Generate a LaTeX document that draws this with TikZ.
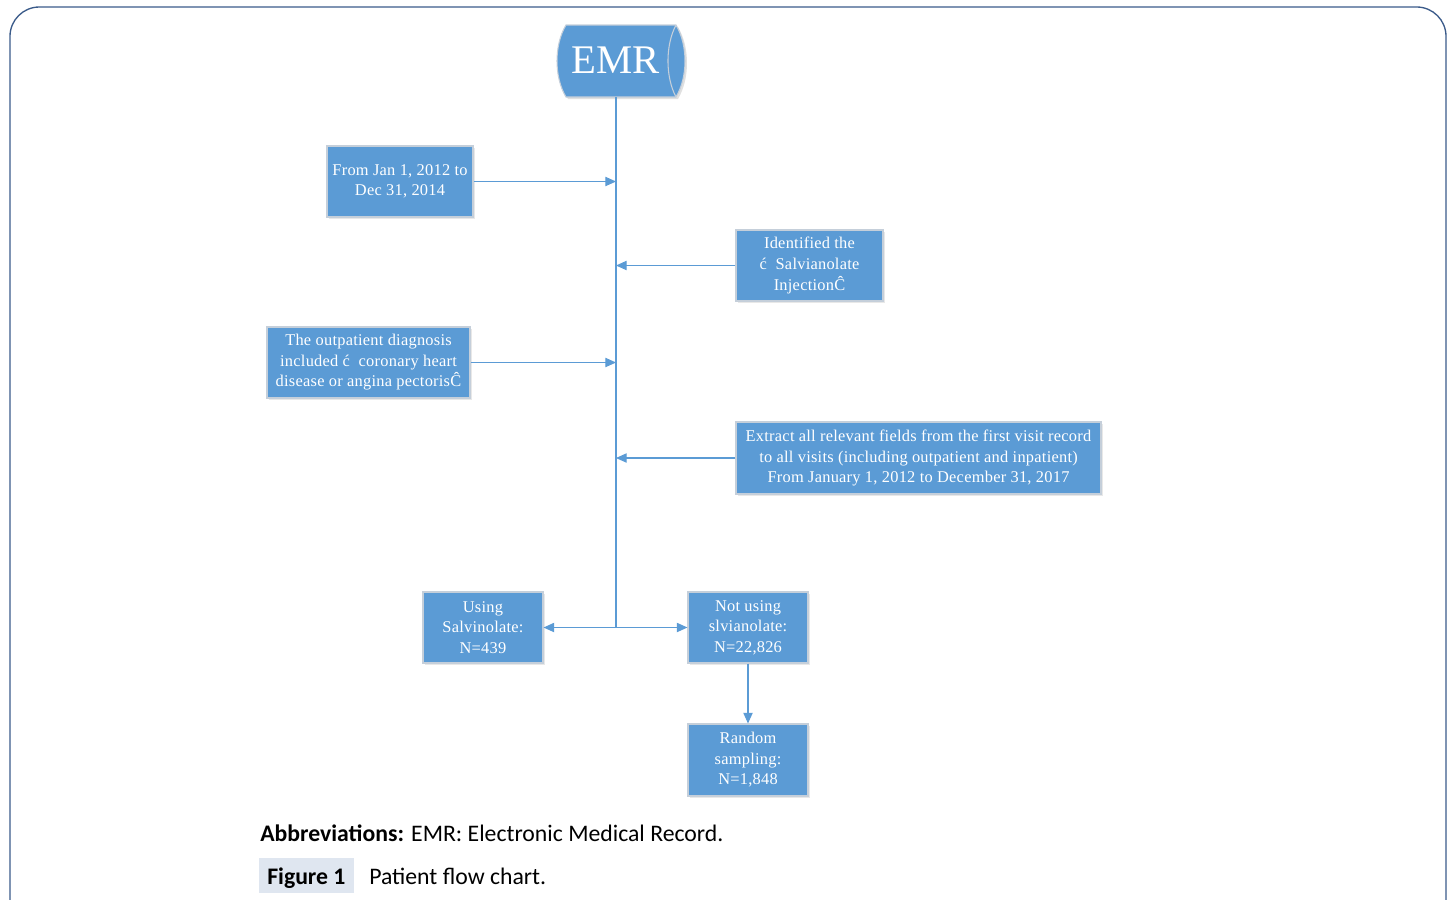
\documentclass[tikz,border=0pt]{standalone}
\usepackage{fontspec}
\setmainfont{Liberation Serif}
\newfontfamily\capfont{Carlito}
\newfontfamily\boxfont[LetterSpace=1.5]{Liberation Serif}
\usetikzlibrary{arrows.meta,shadows}
\definecolor{boxblue}{HTML}{5B9BD5}
\definecolor{boxedge}{HTML}{C5CFDA}
\definecolor{frame}{HTML}{3B5B8A}
\definecolor{figbg}{HTML}{DFE6F0}
\tikzset{
  flowbox/.style={rectangle, fill=boxblue, draw=boxedge, line width=0.8pt, text=white,
    align=center, inner sep=0pt, font=\boxfont\fontsize{12.3}{15.4}\selectfont,
    drop shadow={opacity=0.18, shadow xshift=1.5pt, shadow yshift=-1.5pt}},
  link/.style={draw=boxblue, line width=0.8pt},
  arr/.style={link, -{Triangle[length=8pt,width=7pt]}},
  captxt/.style={anchor=base west, inner sep=0pt, font=\capfont\fontsize{17.8}{20}\selectfont}
}
\begin{document}
\begin{tikzpicture}[x=0.75pt,y=-0.75pt]
\useasboundingbox (0,0) rectangle (1454,900);
% outer frame
\draw[frame, line width=1pt, rounded corners=22pt] (10,7) rectangle (1446,940);
% EMR cylinder
\fill[black, opacity=0.12] (568,27) -- (678,27) .. controls (690,47) and (690,79) .. (678,99) -- (568,99) .. controls (556,79) and (556,47) .. (568,27) -- cycle;
\filldraw[fill=boxblue, draw=boxedge, line width=0.8pt] (566,25) -- (676,25) .. controls (688,45) and (688,77) .. (676,97) -- (566,97) .. controls (554,77) and (554,45) .. (566,25) -- cycle;
\draw[boxedge, line width=0.8pt] (676,25) .. controls (665.3,45) and (665.3,77) .. (676,97);
\node[text=white, inner sep=0pt, font=\fontsize{30.5}{34}\selectfont] (emr) at (616,60) {EMR};
% boxes
\node[flowbox, minimum width=146*0.75pt, minimum height=71*0.75pt] (b1) at (400,181.5) {From Jan 1, 2012 to\\Dec 31, 2014};
\node[flowbox, minimum width=147*0.75pt, minimum height=71*0.75pt] (b2) at (809.5,265.5) {Identified the\\ć\ \ Salvianolate\\InjectionĈ};
\node[flowbox, minimum width=203*0.75pt, minimum height=71*0.75pt] (b3) at (368.5,362.5) {The outpatient diagnosis\\included ć\ \ coronary heart\\disease or angina pectorisĈ};
\node[flowbox, minimum width=365*0.75pt, minimum height=72*0.75pt] (b4) at (918.5,458) {Extract all relevant fields from the first visit record\\to all visits (including outpatient and inpatient)\\From January 1, 2012 to December 31, 2017};
\node[flowbox, minimum width=120*0.75pt, minimum height=71*0.75pt] (b5) at (483,627.5) {Using\\Salvinolate:\\N=439};
\node[flowbox, minimum width=120*0.75pt, minimum height=71*0.75pt] (b6) at (748,627.5) {Not using\\slvianolate:\\N=22,826};
\node[flowbox, minimum width=120*0.75pt, minimum height=72*0.75pt] (b7) at (748,760) {Random\\sampling:\\N=1,848};
% trunk
\coordinate (ttop) at (616,97);
\coordinate (tbot) at (616,627.5);
\draw[link] (ttop) -- (tbot);
\draw[arr] (b1.east) -- (b1.east -| ttop);
\draw[arr] (b2.west) -- (b2.west -| ttop);
\draw[arr] (b3.east) -- (b3.east -| ttop);
\draw[arr] (b4.west) -- (b4.west -| ttop);
\draw[arr] (tbot) -- (b5.east);
\draw[arr] (tbot) -- (b6.west);
\draw[arr] (b6.south) -- (b7.north);
% caption
\node[captxt] (abbr) at (260,841) {\textbf{Abbreviations:} EMR: Electronic Medical Record.};
\fill[figbg] (259,858) rectangle (354,893);
\node[captxt] (fig) at (267,884) {\textbf{Figure 1}};
\node[captxt] (figt) at (369,884) {Patient flow chart.};
\end{tikzpicture}
\end{document}
